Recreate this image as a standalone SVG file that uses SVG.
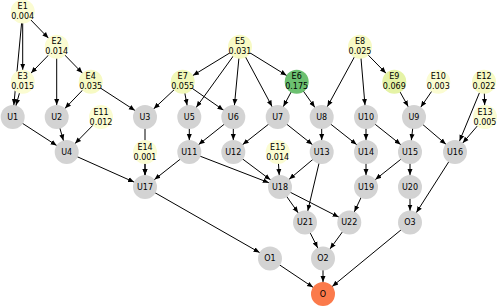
<svg xmlns="http://www.w3.org/2000/svg" width="498" height="307" viewBox="0 0 498 307">
<style>
.e{stroke:#000;stroke-width:1;fill:none;marker-end:url(#ah)}
.u{fill:#d3d3d3}
text{font-family:"DejaVu Sans",sans-serif;font-size:8px;fill:#000;text-anchor:middle}
.e0{fill:#fbfcd2}
.e1{fill:#f7fac4}
.e2{fill:#f1f8b8}
.e3{fill:#e5f3a6}
.e4{fill:#6cc070}
.o{fill:#fb7a4b}
</style>
<defs>
<marker id="ah" markerUnits="userSpaceOnUse" markerWidth="20" markerHeight="8" refX="18" refY="2.5" orient="auto" viewBox="0 0 20 5">
<path d="M0,0 L6,2.5 L0,5 z" fill="#000"/>
</marker>
</defs>
<g id="connectors">
<line class="e" x1="22.7" y1="11.5" x2="56.7" y2="46.7"/>
<line class="e" x1="22.7" y1="11.5" x2="22.7" y2="81.7"/>
<line class="e" x1="22.7" y1="11.5" x2="12.7" y2="117"/>
<line class="e" x1="56.7" y1="46.7" x2="22.7" y2="81.7"/>
<line class="e" x1="56.7" y1="46.7" x2="56.7" y2="117"/>
<line class="e" x1="56.7" y1="46.7" x2="90.7" y2="81.7"/>
<line class="e" x1="22.7" y1="81.7" x2="12.7" y2="117"/>
<line class="e" x1="90.7" y1="81.7" x2="56.7" y2="117"/>
<line class="e" x1="90.7" y1="81.7" x2="145" y2="117"/>
<line class="e" x1="240" y1="46.7" x2="182.7" y2="81.7"/>
<line class="e" x1="240" y1="46.7" x2="189.3" y2="117"/>
<line class="e" x1="240" y1="46.7" x2="233.3" y2="117"/>
<line class="e" x1="240" y1="46.7" x2="277.7" y2="117"/>
<line class="e" x1="240" y1="46.7" x2="296.7" y2="81.7"/>
<line class="e" x1="182.7" y1="81.7" x2="145" y2="117"/>
<line class="e" x1="182.7" y1="81.7" x2="189.3" y2="117"/>
<line class="e" x1="182.7" y1="81.7" x2="233.3" y2="117"/>
<line class="e" x1="296.7" y1="81.7" x2="277.7" y2="117"/>
<line class="e" x1="296.7" y1="81.7" x2="321.7" y2="117"/>
<line class="e" x1="360" y1="46.7" x2="321.7" y2="117"/>
<line class="e" x1="360" y1="46.7" x2="366" y2="117"/>
<line class="e" x1="360" y1="46.7" x2="394.3" y2="81.7"/>
<line class="e" x1="394.3" y1="81.7" x2="414" y2="117"/>
<line class="e" x1="438.3" y1="81.7" x2="414" y2="117"/>
<line class="e" x1="484" y1="81.7" x2="485" y2="117"/>
<line class="e" x1="484" y1="81.7" x2="455" y2="152"/>
<line class="e" x1="485" y1="117" x2="455" y2="152"/>
<line class="e" x1="12.7" y1="117" x2="66.7" y2="152"/>
<line class="e" x1="56.7" y1="117" x2="66.7" y2="152"/>
<line class="e" x1="101" y1="117" x2="66.7" y2="152"/>
<line class="e" x1="66.7" y1="152" x2="145" y2="187"/>
<line class="e" x1="145" y1="117" x2="145" y2="187"/>
<line class="e" x1="145" y1="152" x2="145" y2="187"/>
<line class="e" x1="189.3" y1="152" x2="145" y2="187"/>
<line class="e" x1="189.3" y1="117" x2="189.3" y2="152"/>
<line class="e" x1="233.3" y1="117" x2="189.3" y2="152"/>
<line class="e" x1="233.3" y1="117" x2="233.3" y2="152"/>
<line class="e" x1="277.7" y1="117" x2="233.3" y2="152"/>
<line class="e" x1="277.7" y1="117" x2="321.7" y2="152"/>
<line class="e" x1="321.7" y1="117" x2="321.7" y2="152"/>
<line class="e" x1="321.7" y1="117" x2="366" y2="152"/>
<line class="e" x1="366" y1="117" x2="366" y2="152"/>
<line class="e" x1="366" y1="117" x2="410" y2="152"/>
<line class="e" x1="414" y1="117" x2="410" y2="152"/>
<line class="e" x1="414" y1="117" x2="455" y2="152"/>
<line class="e" x1="189.3" y1="152" x2="280" y2="187"/>
<line class="e" x1="233.3" y1="152" x2="280" y2="187"/>
<line class="e" x1="277.7" y1="152" x2="280" y2="187"/>
<line class="e" x1="321.7" y1="152" x2="280" y2="187"/>
<line class="e" x1="321.7" y1="152" x2="305" y2="222.5"/>
<line class="e" x1="366" y1="152" x2="366" y2="187"/>
<line class="e" x1="410" y1="152" x2="366" y2="187"/>
<line class="e" x1="410" y1="152" x2="410" y2="187"/>
<line class="e" x1="455" y1="152" x2="410" y2="222.5"/>
<line class="e" x1="410" y1="187" x2="410" y2="222.5"/>
<line class="e" x1="280" y1="187" x2="305" y2="222.5"/>
<line class="e" x1="280" y1="187" x2="349.3" y2="222.5"/>
<line class="e" x1="366" y1="187" x2="349.3" y2="222.5"/>
<line class="e" x1="305" y1="222.5" x2="323" y2="258.5"/>
<line class="e" x1="349.3" y1="222.5" x2="323" y2="258.5"/>
<line class="e" x1="145" y1="187" x2="270" y2="258.5"/>
<line class="e" x1="270" y1="258.5" x2="323" y2="294"/>
<line class="e" x1="323" y1="258.5" x2="323" y2="294"/>
<line class="e" x1="410" y1="222.5" x2="323" y2="294"/>
</g>
<g id="E1"><circle class="e0" cx="22.7" cy="11.5" r="12"/><text x="22.7" y="9">E1</text><text x="22.7" y="19">0.004</text></g>
<g id="E2"><circle class="e0" cx="56.7" cy="46.7" r="12"/><text x="56.7" y="44.2">E2</text><text x="56.7" y="54.2">0.014</text></g>
<g id="E3"><circle class="e0" cx="22.7" cy="81.7" r="12"/><text x="22.7" y="79.2">E3</text><text x="22.7" y="89.2">0.015</text></g>
<g id="E4"><circle class="e1" cx="90.7" cy="81.7" r="12"/><text x="90.7" y="79.2">E4</text><text x="90.7" y="89.2">0.035</text></g>
<g id="E5"><circle class="e1" cx="240" cy="46.7" r="12"/><text x="240" y="44.2">E5</text><text x="240" y="54.2">0.031</text></g>
<g id="E7"><circle class="e2" cx="182.7" cy="81.7" r="12"/><text x="182.7" y="79.2">E7</text><text x="182.7" y="89.2">0.055</text></g>
<g id="E6"><circle class="e4" cx="296.7" cy="81.7" r="12"/><text x="296.7" y="79.2">E6</text><text x="296.7" y="89.2">0.175</text></g>
<g id="E8"><circle class="e1" cx="360" cy="46.7" r="12"/><text x="360" y="44.2">E8</text><text x="360" y="54.2">0.025</text></g>
<g id="E9"><circle class="e3" cx="394.3" cy="81.7" r="12"/><text x="394.3" y="79.2">E9</text><text x="394.3" y="89.2">0.069</text></g>
<g id="E10"><circle class="e0" cx="438.3" cy="81.7" r="12"/><text x="438.3" y="79.2">E10</text><text x="438.3" y="89.2">0.003</text></g>
<g id="E12"><circle class="e1" cx="484" cy="81.7" r="12"/><text x="484" y="79.2">E12</text><text x="484" y="89.2">0.022</text></g>
<g id="U1"><circle class="u" cx="12.7" cy="117" r="12"/><text x="12.7" y="119.8">U1</text></g>
<g id="U2"><circle class="u" cx="56.7" cy="117" r="12"/><text x="56.7" y="119.8">U2</text></g>
<g id="E11"><circle class="e0" cx="101" cy="117" r="12"/><text x="101" y="114.5">E11</text><text x="101" y="124.5">0.012</text></g>
<g id="U3"><circle class="u" cx="145" cy="117" r="12"/><text x="145" y="119.8">U3</text></g>
<g id="U5"><circle class="u" cx="189.3" cy="117" r="12"/><text x="189.3" y="119.8">U5</text></g>
<g id="U6"><circle class="u" cx="233.3" cy="117" r="12"/><text x="233.3" y="119.8">U6</text></g>
<g id="U7"><circle class="u" cx="277.7" cy="117" r="12"/><text x="277.7" y="119.8">U7</text></g>
<g id="U8"><circle class="u" cx="321.7" cy="117" r="12"/><text x="321.7" y="119.8">U8</text></g>
<g id="U10"><circle class="u" cx="366" cy="117" r="12"/><text x="366" y="119.8">U10</text></g>
<g id="U9"><circle class="u" cx="414" cy="117" r="12"/><text x="414" y="119.8">U9</text></g>
<g id="E13"><circle class="e0" cx="485" cy="117" r="12"/><text x="485" y="114.5">E13</text><text x="485" y="124.5">0.005</text></g>
<g id="U4"><circle class="u" cx="66.7" cy="152" r="12"/><text x="66.7" y="154.8">U4</text></g>
<g id="E14"><circle class="e0" cx="145" cy="152" r="12"/><text x="145" y="149.5">E14</text><text x="145" y="159.5">0.001</text></g>
<g id="U11"><circle class="u" cx="189.3" cy="152" r="12"/><text x="189.3" y="154.8">U11</text></g>
<g id="U12"><circle class="u" cx="233.3" cy="152" r="12"/><text x="233.3" y="154.8">U12</text></g>
<g id="E15"><circle class="e0" cx="277.7" cy="152" r="12"/><text x="277.7" y="149.5">E15</text><text x="277.7" y="159.5">0.014</text></g>
<g id="U13"><circle class="u" cx="321.7" cy="152" r="12"/><text x="321.7" y="154.8">U13</text></g>
<g id="U14"><circle class="u" cx="366" cy="152" r="12"/><text x="366" y="154.8">U14</text></g>
<g id="U15"><circle class="u" cx="410" cy="152" r="12"/><text x="410" y="154.8">U15</text></g>
<g id="U16"><circle class="u" cx="455" cy="152" r="12"/><text x="455" y="154.8">U16</text></g>
<g id="U17"><circle class="u" cx="145" cy="187" r="12"/><text x="145" y="189.8">U17</text></g>
<g id="U18"><circle class="u" cx="280" cy="187" r="12"/><text x="280" y="189.8">U18</text></g>
<g id="U19"><circle class="u" cx="366" cy="187" r="12"/><text x="366" y="189.8">U19</text></g>
<g id="U20"><circle class="u" cx="410" cy="187" r="12"/><text x="410" y="189.8">U20</text></g>
<g id="U21"><circle class="u" cx="305" cy="222.5" r="12"/><text x="305" y="225.3">U21</text></g>
<g id="U22"><circle class="u" cx="349.3" cy="222.5" r="12"/><text x="349.3" y="225.3">U22</text></g>
<g id="O3"><circle class="u" cx="410" cy="222.5" r="12"/><text x="410" y="225.3">O3</text></g>
<g id="O1"><circle class="u" cx="270" cy="258.5" r="12"/><text x="270" y="261.3">O1</text></g>
<g id="O2"><circle class="u" cx="323" cy="258.5" r="12"/><text x="323" y="261.3">O2</text></g>
<g id="O"><circle class="o" cx="323" cy="294" r="12"/><text x="323" y="296.8">O</text></g>
</svg>
